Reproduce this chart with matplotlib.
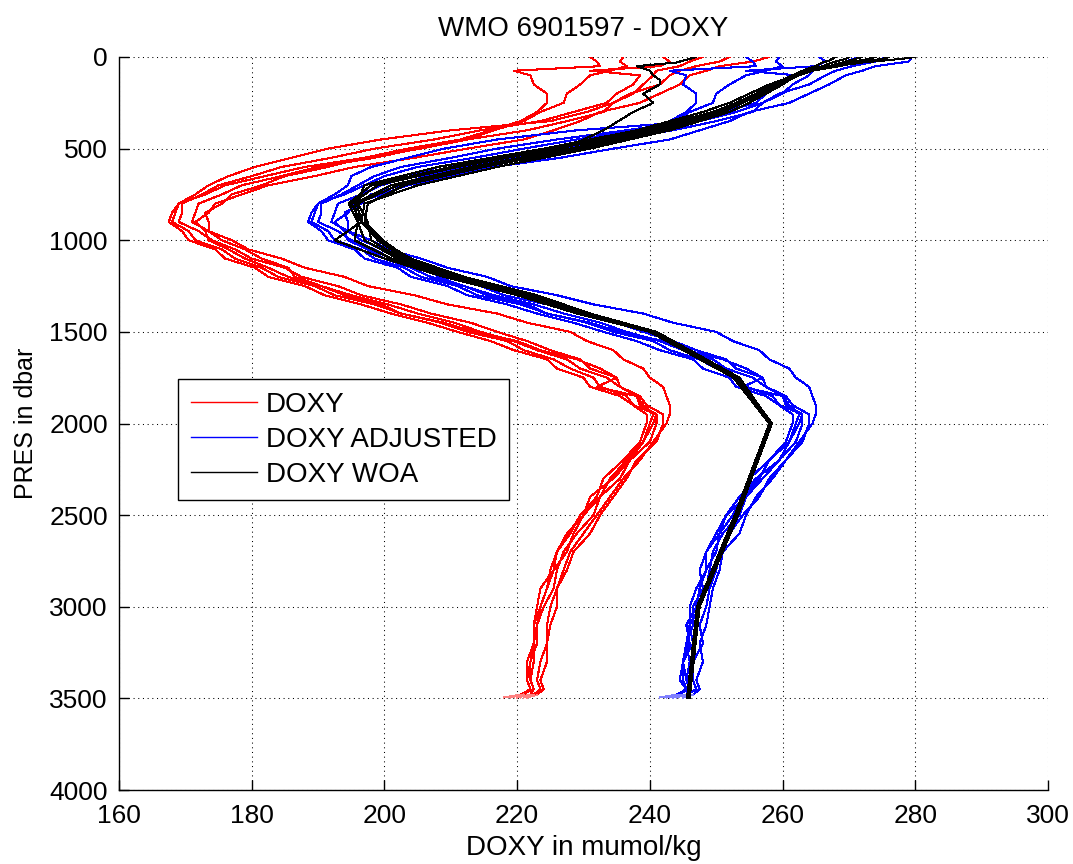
import os
import matplotlib
matplotlib.use("Agg")
import matplotlib.pyplot as plt
from matplotlib import font_manager
from matplotlib.font_manager import FontProperties

# ---------------------------------------------------------------- data
# pressure levels (dbar) shared by the float profiles
pres = [0, 25, 50, 75, 100, 150, 200, 250, 300, 350, 400, 450, 500, 550, 600,
        650, 700, 750, 800, 850, 900, 950, 1000, 1050, 1100, 1150, 1200, 1250,
        1300, 1350, 1400, 1450, 1500, 1550, 1600, 1650, 1700, 1750, 1800, 1850,
        1900, 1950, 2000, 2100, 2200, 2300, 2400, 2500, 2600, 2700, 2800, 2900,
        3000, 3100, 3200, 3300, 3400, 3450, 3480, 3495]

# raw DOXY profiles (umol/kg)
doxy_1 = [252, 250.5, 247, 244.5, 243, 241.5, 237, 234.5, 230.5, 225, 210, 199.5, 191.5, 186, 180.5,
          176.5, 173.5, 171.5, 169, 168.5, 168, 170.5, 171.5, 175.5, 177.5, 181.5, 184, 189.5,
          192.5, 198.5, 202.5, 208.5, 212.5, 218.5, 221, 225.5, 228, 231.5, 232.5, 236.5,
          237.5, 239.5, 239.5,
          238.5, 236, 233, 232, 229.5, 228, 226, 225.5, 223.5, 223, 222.5, 222.5, 221.5, 221.5, 222, 220.5, 218]
doxy_2 = [231, 232, 232.5, 219.5, 222, 222.5, 224.5, 224.5, 223, 220.5, 216, 211.5, 203.5, 197, 188,
          182, 176, 173, 169, 168, 167.5, 169.5, 170.5, 174.5, 176, 180.5, 182.5, 188,
          191, 196.5, 201, 206.5, 211, 216, 219.5, 224.5, 226, 230, 231, 235.5,
          237.5, 241, 240.5,
          239, 237, 235.5, 232.5, 231.5, 229, 227, 226, 225.5, 224, 223, 223, 222, 222, 222.5, 220.5, 219]
doxy_3 = [258, 255.5, 250.5, 248.5, 246, 244.5, 241.5, 238.5, 232.5, 229.5, 225.5, 221, 212.5, 204.5, 195.5,
          189.5, 182.5, 178.5, 174.5, 173.5, 171.5, 173, 173.5, 176.5, 179, 182.5, 185.5, 190.5,
          195, 200.5, 205, 210.5, 214.5, 219.5, 223, 227.5, 229.5, 233.5, 235.5, 238.5,
          239.5, 242, 242,
          241, 238, 236.5, 234.5, 232.5, 231, 228.5, 227.5, 226, 226, 225, 224.5, 224.5, 223.5, 224, 223, 221.5]
doxy_4 = [242, 243, 241.5, 231, 238.5, 237.5, 235, 233.5, 228.5, 223.5, 214.5, 207.5, 198.5, 192, 184.5,
          180, 175, 172.5, 169.5, 169.5, 169, 172, 174, 177.5, 180, 185, 187.5, 193,
          196.5, 202.5, 207, 213, 217, 221.5, 225, 229.5, 231, 235, 235.5, 238,
          239, 240.5, 240,
          239, 236.5, 234, 232.5, 230, 228.5, 227.5, 225.5, 224.5, 223.5, 222.5, 222.5, 222, 221.5, 222, 221, 220.5]
doxy_5 = [236, 235.5, 236.5, 234, 231, 229.5, 227.5, 227, 223.5, 221, 216.5, 212.5, 205, 198.5, 190,
          184.5, 178.5, 175.5, 172, 171.5, 171, 173.5, 175.5, 179, 181.5, 185.5, 186.5, 190.5,
          194, 199.5, 202.5, 209, 213.5, 220, 223.5, 229, 232.5, 235, 232, 238,
          238.5, 241, 241,
          240, 237, 234.5, 231, 230, 227.5, 226, 225, 224.5, 223.5, 223, 222.5, 222.5, 222, 222.5, 222, 220]
doxy_6 = [248, 246, 244.5, 241, 240.5, 239, 237.5, 234.5, 233, 227.5, 221.5, 212.5, 205.5, 197, 191.5,
          185, 181.5, 177, 175.5, 173, 173.5, 173.5, 177, 179.5, 184.5, 188, 194, 197.5,
          204.5, 209.5, 217, 221.5, 228, 230.5, 234.5, 236, 239, 240, 242, 242.5,
          243, 243, 242.5,
          240.5, 238.5, 236, 234, 232, 230, 228, 227, 226, 225, 224.5, 224.5, 223.5, 223, 223.5, 222.5, 221]

# adjusted DOXY profiles (umol/kg)
adj_1 = [275.5, 274, 270.5, 268, 266.5, 264, 259.5, 257, 253, 247.5, 229, 217, 209, 203.5, 198,
         195, 194.5, 192.5, 190, 189.5, 189, 191.5, 192.5, 196.5, 198.5, 203, 205.5, 211,
         214, 220.5, 224.5, 230.5, 234.5, 240.5, 243, 247.5, 250, 253.5, 254.5, 258.5,
         259.5, 261.5, 261.5,
         260.5, 258, 255, 254.5, 251.5, 250.5, 248.5, 248.5, 247, 246, 246, 245.5, 245, 244.5, 245.5, 244, 241.5]
adj_2 = [254.5, 255.5, 256, 243, 245.5, 245, 247, 247, 245.5, 243, 238, 229, 221, 213.5, 205,
         200, 197, 194, 190, 189, 188.5, 190.5, 191.5, 195.5, 197, 202, 204, 209.5,
         212.5, 218.5, 223, 228.5, 233, 238, 241.5, 246.5, 248, 252, 253, 257.5,
         259.5, 263, 262.5,
         261, 259.5, 257, 254.5, 253.5, 251, 249.5, 249, 248.5, 247.5, 246, 246.5, 245, 245.5, 246, 244, 242.5]
adj_3 = [279.5, 279, 274, 272, 269.5, 267, 264, 261, 255, 252, 247.5, 243, 234.5, 226.5, 216.5,
         210.5, 203.5, 199.5, 195.5, 194.5, 192.5, 194, 194.5, 197.5, 200, 204, 207, 212,
         216.5, 222.5, 227, 232.5, 236.5, 241.5, 245, 249.5, 251.5, 255.5, 257.5, 260.5,
         261.5, 264, 264,
         263, 260.5, 258.5, 256, 254.5, 253.5, 251, 250.5, 249.5, 249, 248.5, 247.5, 248, 247, 247.5, 246.5, 245]
adj_4 = [265.5, 266.5, 265, 254.5, 262, 260, 257.5, 256, 251, 246, 236.5, 226, 217, 210, 202.5,
         198.5, 196, 193.5, 190.5, 190.5, 190, 193, 195, 198.5, 201, 206.5, 209, 214.5,
         218, 224.5, 229, 235, 239, 243.5, 247, 251.5, 253, 257, 257.5, 260,
         261, 262.5, 262,
         261, 258, 256.5, 254, 252.5, 250.5, 250, 248.5, 247.5, 247, 245.5, 246, 245, 245, 245.5, 244.5, 243.5]
adj_5 = [259.5, 259, 260, 257.5, 254.5, 252, 250, 249.5, 246, 243.5, 238.5, 234.5, 224, 216.5, 208,
         204, 199.5, 196.5, 193, 192.5, 192, 194.5, 196.5, 200, 202.5, 207, 208, 212,
         215.5, 221.5, 224.5, 231, 235.5, 242, 245.5, 251, 254.5, 257, 254, 260,
         260.5, 263, 263,
         262, 259.5, 256, 253.5, 251.5, 250, 248.5, 247.5, 248, 246.5, 246.5, 245.5, 246, 245.5, 246, 245.5, 243]
adj_6 = [271.5, 269.5, 268, 264.5, 264, 261.5, 260, 257, 255.5, 250, 243.5, 234.5, 227.5, 219, 212.5,
         206, 202.5, 198, 196.5, 194, 194.5, 194.5, 198, 200.5, 205.5, 209.5, 215.5, 219,
         226, 231.5, 239, 243.5, 250, 252.5, 256.5, 258, 261, 262, 264, 264.5,
         265, 265, 264.5,
         262.5, 260.5, 258, 256.5, 254, 252, 250.5, 250, 249, 248.5, 247.5, 248, 246.5, 246.5, 247, 245.5, 244]

# World Ocean Atlas climatology on its standard levels
woa_pres = [0, 10, 20, 30, 50, 75, 100, 125, 150, 200, 250, 300, 400, 500, 600,
            700, 800, 900, 1000, 1100, 1200, 1300, 1400, 1500, 1750, 2000, 2500,
            3000, 3500]
woa_1 = [280, 278, 275, 272, 268, 264, 262, 261, 260, 257.5, 255, 252, 243, 231, 217,
         205, 197, 196.5, 192.5, 200, 209, 220, 229, 240, 253, 258.2, 253, 247.2, 245.7]
woa_2 = [276, 275, 273, 271, 268.5, 264.5, 262, 261, 259.5, 257, 254, 250.5, 241, 228, 213,
         201, 195.5, 196, 195.5, 201, 210, 221, 229.5, 240.5, 253.3, 258.4, 253.2, 247.4, 245.8]
woa_3 = [272, 271, 270, 269, 267, 264, 262, 260.5, 259, 256, 253.5, 250, 240, 226, 211,
         199, 195, 196.5, 199.3, 204, 212, 223, 231, 241, 253.5, 258.3, 253.3, 247.5, 246]
woa_4 = [270, 269.5, 268.5, 267.5, 266, 263.5, 261.5, 260.5, 258.5, 256, 253, 249.5, 239, 225, 210,
         198, 194.6, 196, 197, 202, 211, 222, 230.5, 240.5, 252.8, 258.1, 252.9, 247.3, 245.8]
woa_5 = [268, 267.5, 267, 266, 265, 263, 261.5, 260, 258, 255, 252, 248, 238, 224, 208,
         197, 195.8, 196.6, 199, 203, 210.5, 220.5, 229, 240, 252.6, 258, 252.8, 247.1, 245.6]
woa_6 = [274, 273, 271.5, 270, 267.5, 264.5, 262.5, 261, 259.5, 256.5, 254, 251, 242, 229.5, 215,
         203, 197.5, 197, 199.8, 203.5, 211.5, 222.5, 230, 240.8, 253, 258.2, 253.1, 247.3, 245.8]
woa_7 = [247, 246, 245, 244, 238, 240, 240.5, 241.5, 241.5, 239, 240.5, 237.5, 233, 227, 214,
         202, 196, 197.5, 198, 202.5, 210, 221, 229.5, 240.2, 253.1, 258.3, 253, 247.3, 245.8]

doxy_profiles = [doxy_1, doxy_2, doxy_3, doxy_4, doxy_5, doxy_6]
adj_profiles = [adj_1, adj_2, adj_3, adj_4, adj_5, adj_6]
woa_profiles = [woa_1, woa_2, woa_3, woa_4, woa_5, woa_6, woa_7]

legend_labels = ["DOXY", "DOXY ADJUSTED", "DOXY WOA"]
x_ticks = [160, 180, 200, 220, 240, 260, 280, 300]
y_ticks = [0, 500, 1000, 1500, 2000, 2500, 3000, 3500, 4000]

# ---------------------------------------------------------------- fonts
plt.rcParams["font.family"] = ["Liberation Sans", "DejaVu Sans"]


def find_narrow_font():
    """FontProperties for a narrow sans face if one is installed, else None."""
    by_file = {os.path.basename(e.fname).lower(): e.fname
               for e in font_manager.fontManager.ttflist}
    for wanted in ("liberationsansnarrow-regular.ttf", "notosans-condensed.ttf",
                   "notosans-condensedregular.ttf", "arialn.ttf"):
        if wanted in by_file:
            return FontProperties(fname=by_file[wanted])
    return None


narrow = find_narrow_font()


def axis_font(size):
    if narrow is not None:
        fp = narrow.copy()
        fp.set_size(size)
        return fp
    return FontProperties(family=["Liberation Sans", "DejaVu Sans"], size=size - 2)


# ---------------------------------------------------------------- figure
W, H = 1073, 864
fig = plt.figure(figsize=(W / 100, H / 100), dpi=100)
ax = fig.add_axes([119 / W, 1 - 790 / H, (1048 - 119) / W, (790 - 57) / H])

red, blue, black = (1, 0, 0), (0, 0, 1), (0, 0, 0)
pale_red, pale_blue = (1, 0.5, 0.5), (0.5, 0.5, 1)
line_kw = dict(lw=0.75, antialiased=False)

h_doxy = h_adj = h_woa = None
for prof in doxy_profiles:
    h_doxy, = ax.plot(prof[:-1], pres[:-1], color=red, **line_kw)
    ax.plot(prof[-2:], pres[-2:], color=pale_red, **line_kw)
for prof in adj_profiles:
    h_adj, = ax.plot(prof[:-1], pres[:-1], color=blue, **line_kw)
    ax.plot(prof[-2:], pres[-2:], color=pale_blue, **line_kw)
for prof in woa_profiles:
    h_woa, = ax.plot(prof, woa_pres, color=black, **line_kw)

ax.set_xlim(160, 300)
ax.set_ylim(4000, 0)
ax.set_xticks(x_ticks)
ax.set_yticks(y_ticks)

ax.grid(True, color="black", linestyle=(0, (1, 3.5)), linewidth=0.75)
ax.set_axisbelow(True)
for side in ("top", "right"):
    ax.spines[side].set_visible(False)
for side in ("left", "bottom"):
    ax.spines[side].set_linewidth(1.0)

ax.tick_params(direction="in", length=7, width=1, colors="black")
ax.tick_params(axis="x", pad=10)
ax.tick_params(axis="y", pad=8)
tf = axis_font(21)
for lab in ax.get_xticklabels() + ax.get_yticklabels():
    lab.set_fontproperties(tf)

ax.set_title("WMO 6901597 - DOXY", fontsize=20, pad=15)
ax.set_xlabel("DOXY in mumol/kg", fontsize=20)
ax.xaxis.set_label_coords(0.5, -(835 - 790) / (790 - 57))
ax.set_ylabel("PRES in dbar", fontproperties=axis_font(20))
ax.yaxis.set_label_coords(-(119 - 38) / (1048 - 119), 0.5)

leg = ax.legend([h_doxy, h_adj, h_woa], legend_labels,
                loc="upper left", bbox_to_anchor=(178 / W, 1 - 379 / H),
                bbox_transform=fig.transFigure, borderaxespad=0,
                fontsize=20, frameon=True, fancybox=False, shadow=False,
                framealpha=1, edgecolor="black", facecolor="white",
                borderpad=0.45, handlelength=2.4, handletextpad=0.3,
                labelspacing=0.33)
leg.get_frame().set_linewidth(1.0)
for ln in leg.get_lines():
    ln.set_linewidth(1.0)
    ln.set_antialiased(True)

fig.savefig("out.png", dpi=100, facecolor="white")
